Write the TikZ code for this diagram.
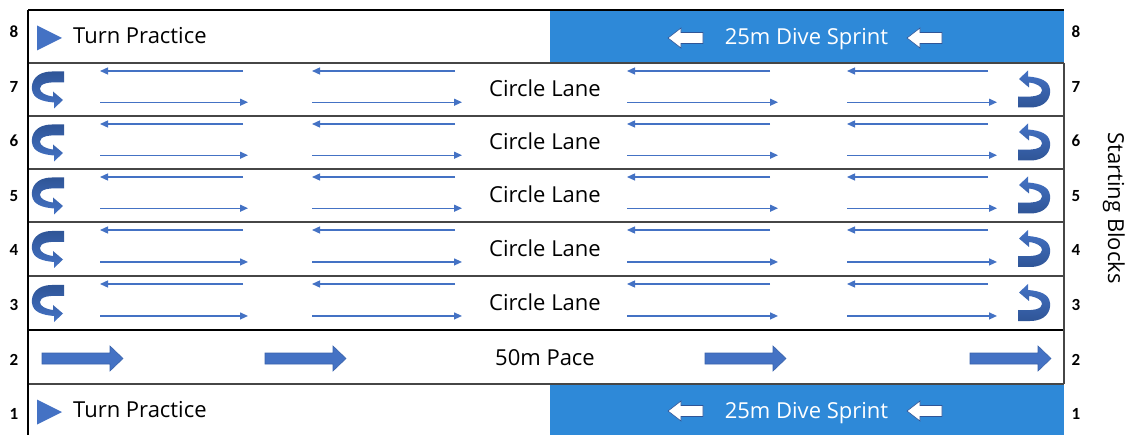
\documentclass[tikz,border=0pt]{standalone}
\usepackage{fontspec}
\setmainfont{Open Sans}
\newfontfamily\numfont{Carlito}[BoldFont={Carlito Bold}]
\usetikzlibrary{arrows.meta}
\definecolor{poolblue}{RGB}{46,137,216}
\definecolor{arrblue}{RGB}{68,114,196}
\definecolor{darkblue}{RGB}{47,85,151}
\definecolor{edgeblue}{RGB}{58,99,172}
\definecolor{lanegray}{RGB}{70,70,70}
\begin{document}
\begin{tikzpicture}[x=1pt,y=-1pt,
  lanetext/.style={font=\fontsize{22}{26}\selectfont, inner sep=0pt, anchor=base},
  lanenum/.style={font=\numfont\bfseries\fontsize{17}{20}\selectfont, inner sep=0pt, anchor=base},
  thinarrow/.style={arrblue, line width=1.3pt, -{Triangle[length=8pt,width=7pt]}},
  divider/.style={lanegray, line width=1.2pt},
  uturnL/.pic={\shade[top color=darkblue, bottom color=arrblue]
    (15,-18) -- (3,-18) .. controls (-13,-18) and (-18,-8) .. (-17,0)
    .. controls (-16,9) and (-7,12) .. (5,13) -- (5,19) -- (14,10.5) -- (4,2) -- (4,7)
    .. controls (-4,6) and (-9,3) .. (-9,-1) .. controls (-9,-6) and (-1,-8) .. (15,-7) -- cycle;},
  uturnR/.pic={\shade[top color=arrblue, bottom color=darkblue]
    (15,-18) -- (3,-18) .. controls (-13,-18) and (-18,-8) .. (-17,0)
    .. controls (-16,9) and (-7,12) .. (5,13) -- (5,19) -- (14,10.5) -- (4,2) -- (4,7)
    .. controls (-4,6) and (-9,3) .. (-9,-1) .. controls (-9,-6) and (-1,-8) .. (15,-7) -- cycle;},
  blockarr/.pic={\filldraw[fill=arrblue, draw=edgeblue, line width=0.6pt]
    (0,-5.5) -- (68,-5.5) -- (68,-12.5) -- (81,0) -- (68,12.5) -- (68,5.5) -- (0,5.5) -- cycle;},
  whitearr/.pic={\filldraw[fill=white, draw=darkblue, line width=0.6pt]
    (0,0) -- (13,-10) -- (13,-5.5) -- (35,-5.5) -- (35,5.5) -- (13,5.5) -- (13,10) -- cycle;},
  tri/.pic={\fill[arrblue] (0,-12.5) -- (25,0) -- (0,12.5) -- cycle;}
]
\useasboundingbox (0,0) rectangle (1134,435);
% blue sprint areas
\fill[poolblue] (550,10) rectangle (1064,63);
\fill[poolblue] (550,384) rectangle (1064,435);
% lane dividers
\foreach \y in {63,116,169,222,276,384} \draw[divider] (28,\y) -- (1064,\y);
\draw[black, line width=2pt] (28,330) -- (1064,330);
\draw[black, line width=1.3pt] (28,10) -- (1064,10);
\draw[black, line width=1.3pt] (28,10) -- (28,435);
\draw[lanegray, line width=1.2pt] (1064,63) -- (1064,384);
% lane numbers
\foreach \n in {1,...,8} {
  \pgfmathsetmacro\yb{38+(8-\n)*54.5}
  \node[lanenum] (nl\n) at (14,\yb) {\n};
  \node[lanenum] (nr\n) at (1076,\yb) {\n};
}
% lane 8
\pic at (37,38) {tri};
\node[lanetext, anchor=base west] (tp8) at (73,43.5) {Turn Practice};
\node[lanetext, text=white] (ds8) at (806.5,44.3) {25m Dive Sprint};
\pic at (668,38) {whitearr};
\pic at (907,38) {whitearr};
% lane 1
\pic at (37,412) {tri};
\node[lanetext, anchor=base west] (tp1) at (73,417.7) {Turn Practice};
\node[lanetext, text=white] (ds1) at (806.5,418) {25m Dive Sprint};
\pic at (668,411) {whitearr};
\pic at (907,411) {whitearr};
% lane 2
\node[lanetext] (pace) at (545,365) {50m Pace};
\foreach \x in {42,265,705,970} \pic at (\x,358.5) {blockarr};
% circle lanes
\foreach \n/\t/\b in {7/63/116, 6/116/169, 5/169/222, 4/222/276, 3/276/330} {
  \pgfmathsetmacro\yc{(\t+\b)/2}
  \pgfmathsetmacro\ya{\t+8}
  \pgfmathsetmacro\yr{\t+0.74*(\b-\t)}
  \node[lanetext] (cl\n) at (545,\yc+7.3) {Circle Lane};
  \pic at (49,\yc) {uturnL};
  \pic[rotate=180] at (1033,\yc) {uturnR};
  \foreach \xa/\xb in {100/243, 312/455, 627/770, 847/988} {
    \coordinate (ls\n\xa) at (\xb,\ya);
    \coordinate (le\n\xa) at (\xa,\ya);
    \draw[thinarrow] (ls\n\xa) -- (le\n\xa);
  }
  \foreach \xa/\xb in {100/248, 312/462, 627/778, 847/997} {
    \coordinate (rs\n\xa) at (\xa,\yr);
    \coordinate (re\n\xa) at (\xb,\yr);
    \draw[thinarrow] (rs\n\xa) -- (re\n\xa);
  }
}
% starting blocks
\node[lanetext, rotate=-90] (sb) at (1108,208) {Starting Blocks};
\end{tikzpicture}
\end{document}
